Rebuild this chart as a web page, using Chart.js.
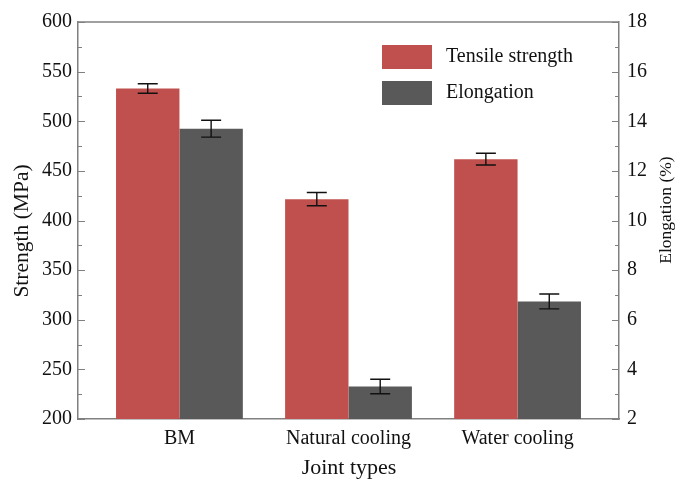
<!DOCTYPE html>
<html>
<head>
<meta charset="utf-8">
<script src="https://cdn.jsdelivr.net/npm/chart.js@4.4.1/dist/chart.umd.min.js"></script>
<style>
  html, body { margin: 0; padding: 0; background: #fff; }
  #wrap { width: 676px; height: 480px; }
</style>
</head>
<body>
<div id="wrap"><canvas id="graficaJuntas" width="676" height="480"></canvas></div>
<script>
// datos
const categorias = ["BM", "Natural cooling", "Water cooling"];
const resistencia = [533, 421.5, 461.8];       // MPa
const resistenciaErr = [4.8, 6.7, 5.9];
const elongacion = [13.7, 3.31, 6.74];         // %
const elongacionErr = [0.34, 0.29, 0.30];
const ticksResistencia = [200, 250, 300, 350, 400, 450, 500, 550, 600];
const ticksElongacion = [2, 4, 6, 8, 10, 12, 14, 16, 18];

const ROJO = "#c0504d";
const GRIS = "#595959";
const EJE = "#808080";
const TEXTO = "#111";
const FUENTE = "'Liberation Serif', 'Times New Roman', serif";

// barras de error encima de cada barra
const erroresPlugin = {
  id: "errores",
  afterDatasetsDraw(chart) {
    const ctx = chart.ctx;
    const series = [
      { idx: 0, err: resistenciaErr, vals: resistencia, eje: chart.scales.y },
      { idx: 1, err: elongacionErr, vals: elongacion, eje: chart.scales.y2 }
    ];
    ctx.save();
    ctx.strokeStyle = TEXTO;
    ctx.lineWidth = 1.4;
    series.forEach(s => {
      const meta = chart.getDatasetMeta(s.idx);
      meta.data.forEach((bar, i) => {
        const x = bar.x;
        const yTop = s.eje.getPixelForValue(s.vals[i] + s.err[i]);
        const yBot = s.eje.getPixelForValue(s.vals[i] - s.err[i]);
        ctx.beginPath();
        ctx.moveTo(x, yTop); ctx.lineTo(x, yBot);
        ctx.moveTo(x - 10, yTop); ctx.lineTo(x + 10, yTop);
        ctx.moveTo(x - 10, yBot); ctx.lineTo(x + 10, yBot);
        ctx.stroke();
      });
    });
    ctx.restore();
  }
};

// marco superior, ticks hacia dentro, titulos y leyenda
const marcoPlugin = {
  id: "marco",
  afterDraw(chart) {
    const ctx = chart.ctx;
    const area = chart.chartArea;
    const yL = chart.scales.y;
    const yR = chart.scales.y2;
    ctx.save();
    ctx.strokeStyle = EJE;
    ctx.lineWidth = 1.5;
    ctx.beginPath();
    ctx.moveTo(area.left, area.top);
    ctx.lineTo(area.right, area.top);
    ctx.stroke();

    ctx.lineWidth = 1;
    ctx.beginPath();
    for (let v = 200; v <= 600; v += 25) {
      const y = Math.round(yL.getPixelForValue(v)) + 0.5;
      const largo = v % 50 === 0 ? 7 : 4;
      ctx.moveTo(area.left, y); ctx.lineTo(area.left + largo, y);
    }
    for (let v = 2; v <= 18; v += 1) {
      const y = Math.round(yR.getPixelForValue(v)) + 0.5;
      const largo = v % 2 === 0 ? 7 : 4;
      ctx.moveTo(area.right, y); ctx.lineTo(area.right - largo, y);
    }
    ctx.stroke();

    // titulos de ejes
    ctx.fillStyle = TEXTO;
    ctx.textAlign = "center";
    ctx.textBaseline = "middle";
    ctx.font = "22px " + FUENTE;
    ctx.fillText("Joint types", 349, 468);

    ctx.save();
    ctx.translate(22, 231);
    ctx.rotate(-Math.PI / 2);
    ctx.font = "21.5px " + FUENTE;
    ctx.fillText("Strength (MPa)", 0, 0);
    ctx.restore();

    ctx.save();
    ctx.translate(666, 210);
    ctx.rotate(-Math.PI / 2);
    ctx.font = "17.5px " + FUENTE;
    ctx.fillText("Elongation (%)", 0, 0);
    ctx.restore();

    // leyenda
    const leyenda = [
      { texto: "Tensile strength", color: ROJO, y: 45 },
      { texto: "Elongation", color: GRIS, y: 81 }
    ];
    ctx.font = "20px " + FUENTE;
    ctx.textAlign = "left";
    leyenda.forEach(l => {
      ctx.fillStyle = l.color;
      ctx.fillRect(382, l.y, 50, 24);
      ctx.fillStyle = TEXTO;
      ctx.fillText(l.texto, 446, l.y + 12);
    });
    ctx.restore();
  }
};

new Chart(document.getElementById("graficaJuntas"), {
  type: "bar",
  data: {
    datasets: [
      {
        label: "Tensile strength",
        data: categorias.map((c, i) => ({ x: i, y: resistencia[i] })),
        backgroundColor: ROJO,
        yAxisID: "y"
      },
      {
        label: "Elongation",
        data: categorias.map((c, i) => ({ x: i, y: elongacion[i] })),
        backgroundColor: GRIS,
        yAxisID: "y2"
      }
    ]
  },
  options: {
    responsive: false,
    animation: false,
    categoryPercentage: 0.75,
    barPercentage: 1.0,
    layout: { padding: { top: 22, left: 0, right: 0, bottom: 0 } },
    plugins: {
      legend: { display: false },
      tooltip: { enabled: false }
    },
    scales: {
      x: {
        type: "linear",
        min: -0.6,
        max: 2.6,
        offset: false,
        afterBuildTicks: s => { s.ticks = [0, 1, 2].map(v => ({ value: v })); },
        afterFit: s => { s.height = 61; },
        grid: { drawOnChartArea: false, drawTicks: false, offset: false },
        border: { display: true, color: EJE, width: 1.5 },
        ticks: {
          callback: v => categorias[v] ?? "",
          color: TEXTO,
          font: { family: FUENTE, size: 20 },
          padding: 8,
          maxRotation: 0,
          autoSkip: false
        }
      },
      y: {
        position: "left",
        min: 200,
        max: 600,
        afterBuildTicks: s => { s.ticks = ticksResistencia.map(v => ({ value: v })); },
        afterFit: s => { s.width = 78; },
        grid: { drawOnChartArea: false, drawTicks: false },
        border: { display: true, color: EJE, width: 1.5 },
        ticks: {
          color: TEXTO,
          font: { family: FUENTE, size: 20 },
          padding: 6
        }
      },
      y2: {
        position: "right",
        min: 2,
        max: 18,
        afterBuildTicks: s => { s.ticks = ticksElongacion.map(v => ({ value: v })); },
        afterFit: s => { s.width = 57; },
        grid: { drawOnChartArea: false, drawTicks: false },
        border: { display: true, color: EJE, width: 1.5 },
        ticks: {
          color: TEXTO,
          font: { family: FUENTE, size: 20 },
          padding: 8
        }
      }
    }
  },
  plugins: [erroresPlugin, marcoPlugin]
});
</script>
</body>
</html>
